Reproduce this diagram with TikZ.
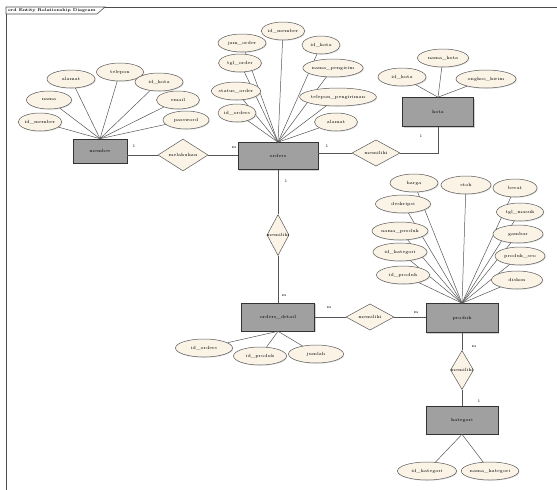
\documentclass[tikz,border=0pt]{standalone}
\usetikzlibrary{shapes.geometric,shadows}
\definecolor{attrfill}{RGB}{250,243,230}
\definecolor{entfill}{RGB}{160,160,160}
\definecolor{linkgray}{RGB}{85,85,85}
\tikzset{
    entity/.style n args={2}{rectangle, draw=black!80, fill=entfill, line width=0.6pt,
        minimum width=#1, minimum height=#2, inner sep=0pt,
        drop shadow={shadow xshift=1.2pt, shadow yshift=-1.2pt, fill=black!35},
        font=\fontsize{4.5}{5}\selectfont},
    attrib/.style={ellipse, draw=black!65, fill=attrfill, line width=0.5pt,
        minimum width=#1, minimum height=18pt, inner sep=0pt,
        drop shadow={shadow xshift=0.8pt, shadow yshift=-0.8pt, fill=black!25},
        font=\fontsize{4.5}{5}\selectfont},
    relation/.style n args={2}{diamond, draw=black!65, fill=attrfill, line width=0.5pt,
        minimum width=#1, minimum height=#2, inner sep=0pt,
        font=\fontsize{4.5}{5}\selectfont},
    link/.style={draw=linkgray, line width=0.5pt},
    card/.style={inner sep=0pt, font=\fontsize{4}{4.5}\selectfont}
}
\begin{document}
\begin{tikzpicture}[x=1pt, y=-1pt]
    \useasboundingbox (0,0) rectangle (557,490);
    % frame and title tab
    \draw[black!70, line width=0.6pt] (6,490) -- (6,7) -- (557,7);
    \draw[black!70, line width=0.6pt, fill=white] (6,7) -- (105,7) -- (97,14) -- (6,14) -- cycle;
    \node[anchor=west, inner sep=0pt, font=\fontsize{4}{4.5}\selectfont\bfseries] (title) at (8,10.5) {erd Entity Relationship Diagram};

    % entities
    \node[entity={54pt}{24pt}] (member) at (100,151) {member};
    \node[entity={80pt}{27pt}] (orders) at (278,156) {orders};
    \node[entity={71pt}{29pt}] (kota) at (438,112) {kota};
    \node[entity={73pt}{28pt}] (detail) at (278,317) {orders\_detail};
    \node[entity={72pt}{29pt}] (produk) at (462,318) {produk};
    \node[entity={72pt}{28pt}] (kategori) at (462,420) {kategori};

    % relations
    \node[relation={50pt}{17pt}] (rel1) at (183,155) {melakukan};
    \node[relation={48pt}{18pt}] (rel2) at (376,153) {memiliki};
    \node[relation={22pt}{41pt}] (rel3) at (278,235) {};
    \node[card, font=\fontsize{4.5}{5}\selectfont] (rel3txt) at (rel3) {memiliki};
    \node[relation={48pt}{17pt}] (rel4) at (370,317) {memiliki};
    \node[relation={23pt}{39pt}] (rel5) at (462,370) {};
    \node[card, font=\fontsize{4.5}{5}\selectfont] (rel5txt) at (rel5) {memiliki};

    \draw[link] (rel1.west -| member.east) -- (rel1.west);
    \draw[link] (rel1.east) -- (rel1.east -| orders.west);
    \draw[link] (rel2.west -| orders.east) -- (rel2.west);
    \draw[link] (rel2.east) -| (kota.south);
    \draw[link] (orders.south) -- (rel3.north);
    \draw[link] (rel3.south) -- (detail.north);
    \draw[link] (rel4.west -| detail.east) -- (rel4.west);
    \draw[link] (rel4.east) -- (rel4.east -| produk.west);
    \draw[link] (produk.south) -- (rel5.north);
    \draw[link] (rel5.south) -- (kategori.north);

    % cardinalities
    \node[card] (c1) at (134,146) {1};
    \node[card] (c2) at (234,148) {m};
    \node[card] (c3) at (327,146) {1};
    \node[card] (c4) at (421,136) {1};
    \node[card] (c5) at (286,181) {1};
    \node[card] (c6) at (284,296) {m};
    \node[card] (c7) at (329,308) {m};
    \node[card] (c8) at (416,313) {m};
    \node[card] (c9) at (474,347) {m};
    \node[card] (c10) at (479,401) {1};

    % attributes
    \foreach \txt/\x/\y/\w [count=\i] in {id\_member/40/122/42, nama/49/100/45, alamat/71/79/48,
        telepon/120/72/47, id\_kota/159/82/48, email/178/100/43, password/186/120/46}{
        \node[attrib=\w pt] (mem\i) at (\x,\y) {\txt};
        \draw[link] (mem\i) -- (member.north);
    }
    \foreach \txt/\x/\y/\w [count=\i] in {id\_member/283/31/40, jam\_order/242/43/48, id\_kota/321/45/38,
        tgl\_order/240/63/43, nama\_pengirim/333/68/53, status\_order/236/91/46,
        telepon\_pengiriman/338/97/59, id\_orders/237/113/38, alamat/336/122/43}{
        \node[attrib=\w pt] (ord\i) at (\x,\y) {\txt};
        \draw[link] (ord\i) -- (orders.north);
    }
    \foreach \txt/\x/\y/\w [count=\i] in {id\_kota/402/77/48, nama\_kota/443/58/51, ongkos\_kirim/486/79/60}{
        \node[attrib=\w pt] (kot\i) at (\x,\y) {\txt};
        \draw[link] (kot\i) -- (kota.north);
    }
    \foreach \txt/\x/\y/\w [count=\i] in {harga/414/183/48, stok/466/185/50, berat/515/188/44,
        deskripsi/403/204/55, tgl\_masuk/520/212/47, nama\_produk/400/231/56, gambar/518/234/50,
        id\_kategori/400/252/54, produk\_seo/520/256/50, id\_produk/403/275/53, diskon/517/280/51}{
        \node[attrib=\w pt] (pro\i) at (\x,\y) {\txt};
        \draw[link] (pro\i) -- (produk.north);
    }
    \foreach \txt/\x/\y/\w [count=\i] in {id\_orders/204/348/57, id\_produk/260/356/53, jumlah/316/354/55}{
        \node[attrib=\w pt] (det\i) at (\x,\y) {\txt};
        \draw[link] (det\i) -- (detail.south);
    }
    \foreach \txt/\x/\y/\w [count=\i] in {id\_kategori/427/471/59, nama\_kategori/490/471/57}{
        \node[attrib=\w pt] (kat\i) at (\x,\y) {\txt};
        \draw[link] (kat\i) -- (kategori.south);
    }
\end{tikzpicture}
\end{document}
